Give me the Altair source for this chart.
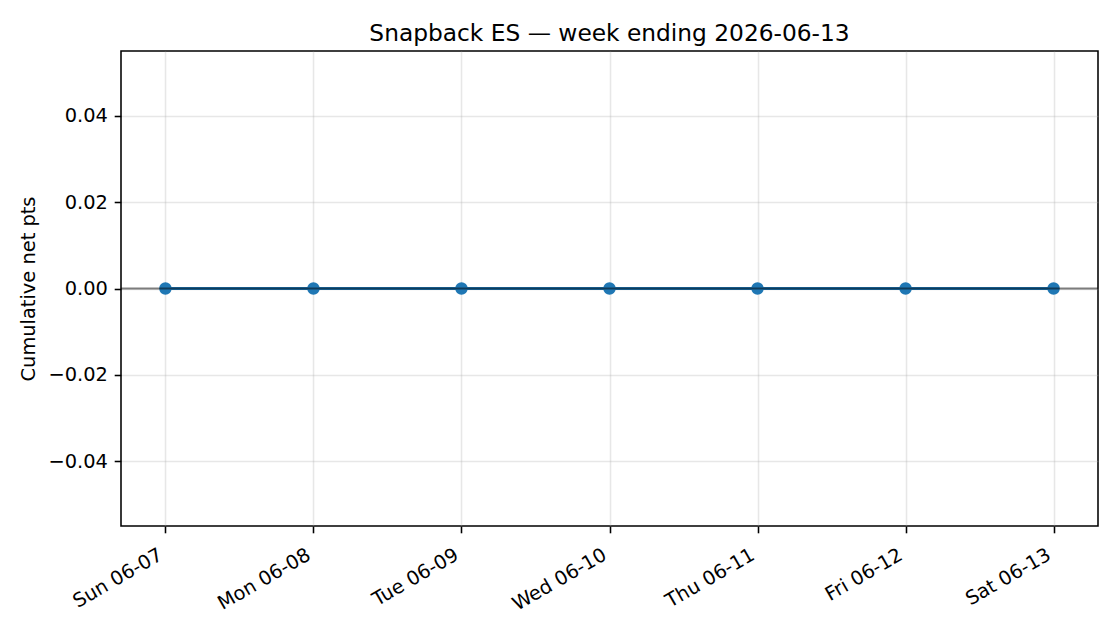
import json
import altair as alt
import pandas as pd

# ---- data ----
day_labels = ["Sun 06-07", "Mon 06-08", "Tue 06-09", "Wed 06-10",
              "Thu 06-11", "Fri 06-12", "Sat 06-13"]
day_index = [0, 1, 2, 3, 4, 5, 6]
cum_net_pts = [0.0, 0.0, 0.0, 0.0, 0.0, 0.0, 0.0]
zero_line = [0.0]
y_ticks = [-0.04, -0.02, 0.0, 0.02, 0.04]

title_text = "Snapback ES \u2014 week ending 2026-06-13"
y_title = "Cumulative net pts"

df = pd.DataFrame({"i": day_index, "v": cum_net_pts, "label": day_labels})
zdf = pd.DataFrame({"z": zero_line})

FONT = "DejaVu Sans"
LW = 1.56
BLUE = "#1f77b4"

label_expr = json.dumps(day_labels) + "[datum.value]"

x_enc = alt.X(
    "i:Q",
    scale=alt.Scale(domain=[-0.3, 6.3], nice=False, zero=False),
    axis=alt.Axis(
        values=day_index,
        labelExpr=label_expr,
        labelAngle=330,
        labelAlign="right",
        labelBaseline="top",
        labelOffset=-9.5,
        labelPadding=12.3,
        title=None,
    ),
)
y_enc = alt.Y(
    "v:Q",
    scale=alt.Scale(domain=[-0.055, 0.055], nice=False, zero=False),
    axis=alt.Axis(values=y_ticks, format=".2f", title=y_title, titlePadding=9),
)

base = alt.Chart(df)
line = base.mark_line(color=BLUE, strokeWidth=2.9).encode(x=x_enc, y=y_enc)
points = base.mark_point(filled=True, shape="circle", size=155, color=BLUE, opacity=1).encode(
    x="i:Q", y="v:Q"
)
rule = alt.Chart(zdf).mark_rule(color="black", opacity=0.5, strokeWidth=1.9).encode(y="z:Q")

chart = (
    alt.layer(line, points, rule)
    .properties(
        width=977,
        height=475,
        background="white",
        autosize=alt.AutoSizeParams(type="none"),
        padding={"left": 121, "top": 51, "right": 22, "bottom": 104},
        title=alt.TitleParams(
            text=title_text,
            font=FONT,
            fontSize=23.3,
            fontWeight="normal",
            color="black",
            anchor="middle",
            baseline="alphabetic",
            offset=10.5,
            dy=24,
        ),
    )
    .configure_view(stroke="black", strokeWidth=LW)
    .configure_axis(
        domain=False,
        grid=True,
        gridColor="#b0b0b0",
        gridOpacity=0.3,
        gridWidth=LW,
        ticks=True,
        tickColor="black",
        tickSize=6.8,
        tickWidth=LW,
        labelFont=FONT,
        labelFontSize=19.4,
        labelColor="black",
        labelPadding=6.8,
        titleFont=FONT,
        titleFontSize=19.4,
        titleFontWeight="normal",
        titleColor="black",
    )
)

chart.save("out.html", embed_options={"renderer": "svg", "actions": False})
